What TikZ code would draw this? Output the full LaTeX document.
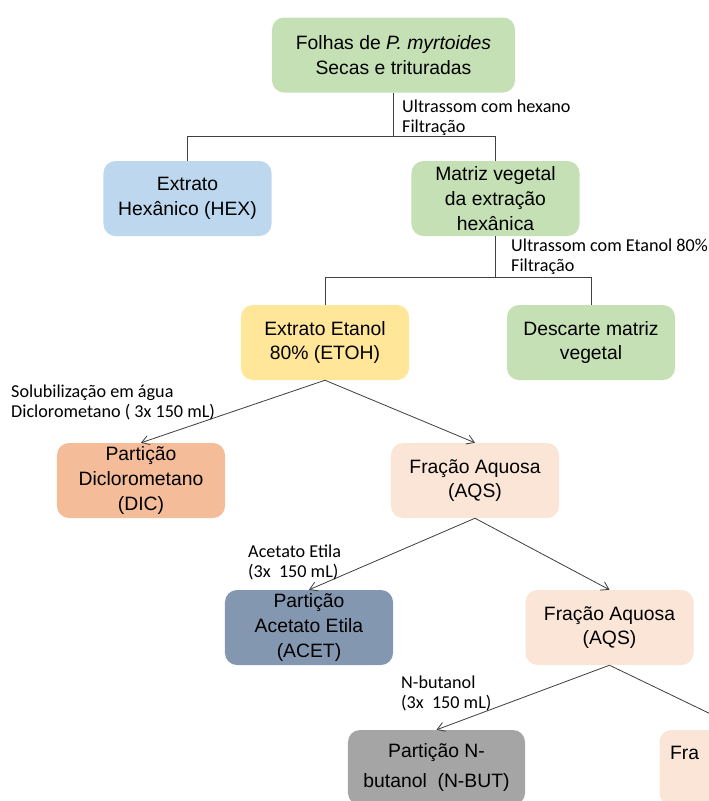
\documentclass[tikz,border=0pt]{standalone}
\usepackage{fontspec}
\setmainfont{Liberation Sans}
\newfontfamily\notefont{Carlito}
\usepackage{xcolor}
\usetikzlibrary{arrows.meta, positioning}
\tikzset{>={Straight Barb[length=2.2mm,width=2.8mm]}}
\definecolor{folha}{HTML}{C5E0B4}
\definecolor{azul}{HTML}{BDD7EE}
\definecolor{amarelo}{HTML}{FFE699}
\definecolor{laranja}{HTML}{F4BC98}
\definecolor{pessego}{HTML}{FBE5D6}
\definecolor{cinzaazul}{HTML}{8497B0}
\definecolor{cinza}{HTML}{A5A5A5}
\tikzset{
  etapa/.style={rectangle, rounded corners=3.6mm, minimum width=5.04cm, minimum height=2.25cm, align=center, inner xsep=2pt, inner ysep=1pt, font=\fontsize{16.5}{21}\selectfont},
  obs/.style={anchor=west, align=left, inner sep=0pt, font=\notefont\fontsize{15.5}{17}\selectfont},
  liga/.style={draw=black!75, line width=0.7pt}
}

\begin{document}
\begin{tikzpicture}[x=0.03cm, y=-0.03cm]
	\useasboundingbox (0,0) rectangle (709,801);
	\clip (0,0) rectangle (709,801);
	\node [etapa, fill=folha, minimum width=7.29cm] (folhas) at (393.5,55) {Folhas de \textit{P.\ myrtoides}\\Secas e trituradas};
	\node [etapa, fill=azul] (hex) at (187.5,198.5) {Extrato\\Hexânico (HEX)};
	\node [etapa, fill=folha] (matriz) at (495.5,198.5) {Matriz vegetal\\da extração\\hexânica};
	\node [etapa, fill=amarelo] (etoh) at (325,342.5) {Extrato Etanol\\80\% (ETOH)};
	\node [etapa, fill=folha] (descarte) at (591,342.5) {Descarte matriz\\vegetal};
	\node [etapa, fill=laranja] (dic) at (141,480.5) {Partição\\Diclorometano\\(DIC)};
	\node [etapa, fill=pessego] (aqs) at (475,480.5) {Fração Aquosa\\(AQS)};
	\node [etapa, fill=cinzaazul] (acet) at (309,627.5) {Partição\\Acetato Etila\\(ACET)};
	\node [etapa, fill=pessego] (aqsdois) at (609.5,627.5) {Fração Aquosa\\(AQS)};
	\node [etapa, fill=cinza, minimum width=5.31cm] (nbut) at (436.5,767.5) {Partição N-\\[4pt]butanol~ (N-BUT)};
	\node [etapa, fill=pessego, text width=4.4cm, align=left] (fra) at (743.5,767.5) {Fra\\\phantom{(AQS)}};
	\coordinate (corte1) at (393.5,136);
	\draw [liga] (folhas.south) -- (corte1) -| (hex.north);
	\draw [liga] (corte1) -| (matriz.north);
	\coordinate (corte2) at (495.5,277);
	\draw [liga] (matriz.south) -- (corte2) -| (etoh.north);
	\draw [liga] (corte2) -| (descarte.north);
	\draw [liga, ->] (etoh.south) -- (dic.north);
	\draw [liga, ->] (etoh.south) -- (aqs.north);
	\draw [liga, ->] (aqs.south) -- (acet.north);
	\draw [liga, ->] (aqs.south) -- (aqsdois.north);
	\draw [liga, ->] (aqsdois.south) -- (nbut.north);
	\draw [liga, ->] (aqsdois.south) -- (fra.north);
	\node [obs] (ultra1) at (402,118) {Ultrassom com hexano\\Filtração};
	\node [obs] (ultra2) at (511,257) {Ultrassom com Etanol 80\%\\Filtração};
	\node [obs] (solub) at (11,402) {Solubilização em água\\Diclorometano ( 3x 150 mL)};
	\node [obs] (acetato) at (248,562) {Acetato Etila\\(3x~ 150 mL)};
	\node [obs] (butanol) at (401,693) {N-butanol\\(3x~ 150 mL)};
\end{tikzpicture}
\end{document}
